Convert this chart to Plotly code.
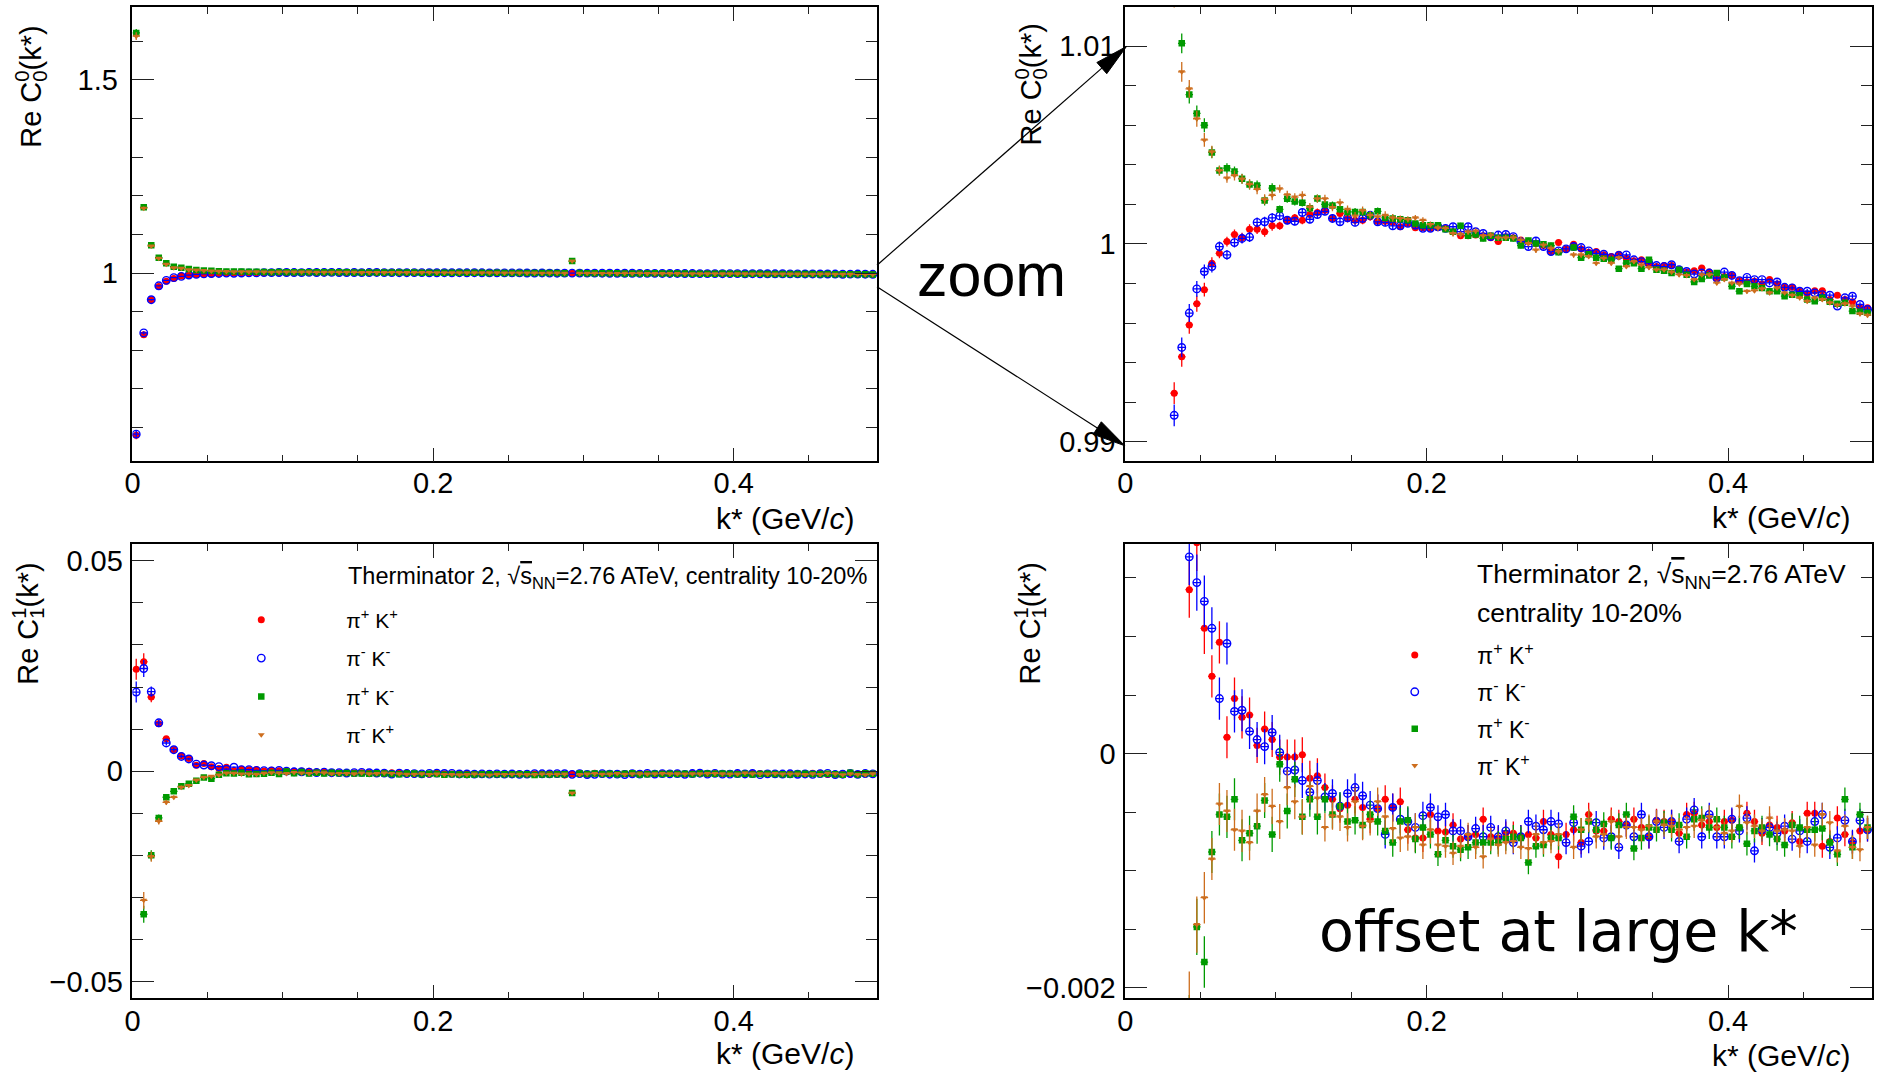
import plotly.graph_objects as go

W, H = 1879, 1075
FONT = "Liberation Sans, Arial, sans-serif"

# ---------------- data ----------------
kstar = [0.0025, 0.0075, 0.0125, 0.0175, 0.0225, 0.0275, 0.0325, 0.0375, 0.0425, 0.0475,
         0.0525, 0.0575, 0.0625, 0.0675, 0.0725, 0.0775, 0.0825, 0.0875, 0.0925, 0.0975,
         0.1025, 0.1075, 0.1125, 0.1175, 0.1225, 0.1275, 0.1325, 0.1375, 0.1425, 0.1475,
         0.1525, 0.1575, 0.1625, 0.1675, 0.1725, 0.1775, 0.1825, 0.1875, 0.1925, 0.1975,
         0.2025, 0.2075, 0.2125, 0.2175, 0.2225, 0.2275, 0.2325, 0.2375, 0.2425, 0.2475,
         0.2525, 0.2575, 0.2625, 0.2675, 0.2725, 0.2775, 0.2825, 0.2875, 0.2925, 0.2975,
         0.3025, 0.3075, 0.3125, 0.3175, 0.3225, 0.3275, 0.3325, 0.3375, 0.3425, 0.3475,
         0.3525, 0.3575, 0.3625, 0.3675, 0.3725, 0.3775, 0.3825, 0.3875, 0.3925, 0.3975,
         0.4025, 0.4075, 0.4125, 0.4175, 0.4225, 0.4275, 0.4325, 0.4375, 0.4425, 0.4475,
         0.4525, 0.4575, 0.4625, 0.4675, 0.4725, 0.4775, 0.4825, 0.4875, 0.4925]

series_names = ["π<sup>+</sup> K<sup>+</sup>", "π<sup>-</sup> K<sup>-</sup>",
                "π<sup>+</sup> K<sup>-</sup>", "π<sup>-</sup> K<sup>+</sup>"]

c0_pipKp = [0.580, 0.840, 0.931, 0.965, 0.979, 0.986, 0.99246, 0.9943, 0.99591, 0.99698,
            0.99769, 0.99903, 0.99953, 1.00012, 1.00048, 1.00032, 1.00075, 1.00075, 1.00062, 1.00092,
            1.00092, 1.0012, 1.00132, 1.0012, 1.00149, 1.00159, 1.0017, 1.00129, 1.00154, 1.00129,
            1.0012, 1.0012, 1.00137, 1.00115, 1.00115, 1.00109, 1.00087, 1.00104, 1.00082, 1.00082,
            1.00079, 1.00082, 1.00079, 1.00062, 1.00042, 1.00042, 1.00045, 1.00042, 1.00032, 1.00012,
            1.00037, 1.00032, 1.0002, 1.00012, 1.00003, 0.99992, 0.99962, 1.00008, 0.99975, 0.99998,
            0.99975, 0.99958, 0.99962, 0.99945, 0.99937, 0.99948, 0.99928, 0.99915, 0.9992, 0.99895,
            0.99886, 0.99891, 0.99891, 0.9987, 0.99858, 0.99865, 0.99878, 0.99858, 0.99825, 0.99836,
            0.99841, 0.99815, 0.99808, 0.99811, 0.99798, 0.9982, 0.99798, 0.99781, 0.99781, 0.99761,
            0.99748, 0.99764, 0.99764, 0.99719, 0.99741, 0.99719, 0.99708, 0.99678, 0.99678]

c0_pimKm = [0.583, 0.845, 0.931, 0.967, 0.981, 0.988, 0.99134, 0.99477, 0.99651, 0.99773,
            0.99861, 0.99886, 0.99987, 0.99945, 1.00007, 1.00028, 1.00035, 1.00109, 1.00112, 1.00132,
            1.00142, 1.0012, 1.00115, 1.00159, 1.00125, 1.00149, 1.00165, 1.00129, 1.00112, 1.00132,
            1.00109, 1.00129, 1.00145, 1.00112, 1.00109, 1.00092, 1.00092, 1.00104, 1.00095, 1.00079,
            1.00079, 1.00087, 1.00079, 1.00087, 1.00062, 1.00087, 1.00062, 1.00053, 1.00037, 1.00045,
            1.00048, 1.00037, 1.00012, 0.99987, 1.00015, 0.99987, 0.99962, 0.99965, 0.99975, 0.99987,
            0.99982, 0.99965, 0.99953, 0.99948, 0.99931, 0.99942, 0.99945, 0.9992, 0.99911, 0.99903,
            0.99891, 0.99886, 0.99895, 0.9987, 0.99861, 0.99848, 0.99853, 0.99853, 0.99828, 0.99858,
            0.99841, 0.99815, 0.99831, 0.9982, 0.9982, 0.99803, 0.99808, 0.99781, 0.99778, 0.99761,
            0.99761, 0.99753, 0.99744, 0.99741, 0.99686, 0.99728, 0.99736, 0.99694, 0.99669]

c0_pipKm = [1.6215, 1.170, 1.072, 1.0395, 1.025, 1.0163, 1.0135, 1.01014, 1.00755, 1.0066,
            1.006, 1.00463, 1.00371, 1.00383, 1.00366, 1.0033, 1.003, 1.00296, 1.0022, 1.00282,
            1.00175, 1.00229, 1.00215, 1.00209, 1.0018, 1.0023, 1.002, 1.00195, 1.00175, 1.00162,
            1.00162, 1.00162, 1.00145, 1.00165, 1.00132, 1.00129, 1.00125, 1.0012, 1.00104, 1.00095,
            1.00095, 1.00095, 1.00075, 1.00062, 1.00092, 1.00042, 1.00048, 1.00028, 1.00042, 1.00032,
            1.00032, 1.00028, 0.99992, 1.00017, 1.00003, 0.99998, 0.99992, 0.99958, 1.031, 0.99982,
            0.99931, 0.99948, 0.99931, 0.99925, 0.9992, 0.99875, 0.99903, 0.99903, 0.99875, 0.9992,
            0.9987, 0.99865, 0.99853, 0.9987, 0.99845, 0.99808, 0.99823, 0.99841, 0.99853, 0.99831,
            0.99786, 0.99761, 0.99798, 0.99786, 0.99778, 0.99761, 0.99761, 0.99736, 0.99744, 0.99741,
            0.99719, 0.99711, 0.99728, 0.99708, 0.99698, 0.99703, 0.99661, 0.99657, 0.99652]

c0_pimKp = [1.613, 1.168, 1.070, 1.038, 1.023, 1.0137, 1.0125, 1.0087, 1.00784, 1.00633,
            1.00526, 1.00466, 1.00371, 1.00334, 1.00346, 1.00329, 1.00302, 1.00276, 1.00226, 1.00246,
            1.00279, 1.00249, 1.00237, 1.00246, 1.00187, 1.00229, 1.00229, 1.00185, 1.00209, 1.00175,
            1.00142, 1.00169, 1.00145, 1.00137, 1.00145, 1.00132, 1.00129, 1.00125, 1.00132, 1.0012,
            1.00099, 1.00082, 1.00079, 1.00053, 1.00048, 1.00062, 1.00065, 1.00042, 1.00045, 1.00032,
            1.00032, 1.00032, 1.0002, 1.00003, 0.9997, 0.99995, 0.99978, 0.99962, 1.031, 0.99945,
            0.99945, 0.99937, 0.99903, 0.99928, 0.99903, 0.99931, 0.99886, 0.99911, 0.99895, 0.99881,
            0.9987, 0.9987, 0.99858, 0.99845, 0.99841, 0.9982, 0.99845, 0.99845, 0.99803, 0.9982,
            0.99803, 0.99798, 0.99761, 0.99764, 0.99774, 0.99753, 0.99778, 0.99753, 0.99741, 0.99728,
            0.99711, 0.99728, 0.99719, 0.99703, 0.99691, 0.99698, 0.99686, 0.99647, 0.9964]

c1_pipKp = [0.0242, 0.0260, 0.0176, 0.0113, 0.0077, 0.0051, 0.0036, 0.0030, 0.0014, 0.0018,
            0.00107, 0.00066, 0.00095, 0.00014, 0.00047, 0.00031, 0.00033, 0.00007, 0.00021, 0.00012,
            -0.00003, -0.00003, -0.00003, -0.00001, -0.00021, -0.00019, -0.00029, -0.00039, -0.00047, -0.00044,
            -0.00039, -0.00046, -0.00056, -0.00047, -0.00039, -0.00046, -0.00041, -0.00065, -0.00072, -0.00072,
            -0.00052, -0.00066, -0.00067, -0.00061, -0.00073, -0.00071, -0.00069, -0.00056, -0.00071, -0.00072,
            -0.00068, -0.00068, -0.00071, -0.00069, -0.00072, -0.00058, -0.00069, -0.00088, -0.00069, -0.00065,
            -0.00076, -0.00052, -0.00066, -0.00066, -0.00056, -0.00058, -0.00061, -0.00056, -0.00063, -0.00071,
            -0.00057, -0.00058, -0.00058, -0.00068, -0.00052, -0.00051, -0.00061, -0.00058, -0.00063, -0.00058,
            -0.00057, -0.00063, -0.00051, -0.00058, -0.00068, -0.00061, -0.00063, -0.00066, -0.00059, -0.00075,
            -0.00051, -0.00051, -0.00079, -0.00075, -0.00055, -0.00069, -0.00076, -0.00066, -0.00065]

c1_pimKm = [0.0188, 0.0244, 0.0189, 0.0115, 0.0067, 0.0051, 0.0035, 0.0029, 0.00168, 0.00146,
            0.0013, 0.00107, 0.00047, 0.00094, 0.00036, 0.00037, 0.00019, 0.00012, 0.00006, 0.00018,
            0.00001, -0.00015, -0.00014, -0.00023, -0.00033, -0.00023, -0.00037, -0.00034, -0.00045, -0.00034,
            -0.00029, -0.00036, -0.00044, -0.00047, -0.00069, -0.00046, -0.00056, -0.00058, -0.00063, -0.00053,
            -0.00046, -0.00054, -0.00052, -0.00066, -0.00066, -0.00071, -0.00064, -0.00071, -0.00063, -0.00071,
            -0.00066, -0.00076, -0.00071, -0.00058, -0.00062, -0.00065, -0.00058, -0.0006, -0.00076, -0.00059,
            -0.00079, -0.00075, -0.00059, -0.00072, -0.00071, -0.0008, -0.00061, -0.00071, -0.00052, -0.00071,
            -0.00058, -0.00063, -0.00058, -0.00075, -0.00056, -0.00048, -0.00071, -0.00052, -0.00071, -0.00071,
            -0.00056, -0.00066, -0.00055, -0.00083, -0.00065, -0.00063, -0.00068, -0.00062, -0.00073, -0.00066,
            -0.00075, -0.00058, -0.00052, -0.0008, -0.00072, -0.00057, -0.00075, -0.00057, -0.00065]

c1_pipKm = [None, -0.034, -0.0200, -0.0111, -0.0062, -0.0048, -0.0036, -0.0030, -0.0023, -0.00148,
            -0.00178, -0.00084, -0.00052, -0.00054, -0.00039, -0.00074, -0.00068, -0.00062, -0.0004, -0.00069,
            -0.00009, -0.00049, -0.00022, -0.00054, -0.00039, -0.00054, -0.00039, -0.00052, -0.00045, -0.00058,
            -0.00057, -0.00061, -0.00052, -0.00058, -0.00066, -0.00076, -0.00058, -0.00057, -0.00073, -0.00063,
            -0.00069, -0.00086, -0.00074, -0.00079, -0.00082, -0.0008, -0.00076, -0.00076, -0.00076, -0.00076,
            -0.00073, -0.00071, -0.00072, -0.00093, -0.00079, -0.00078, -0.00072, -0.00072, -0.0052, -0.00054,
            -0.00065, -0.00058, -0.00065, -0.0006, -0.00072, -0.00061, -0.00052, -0.00081, -0.00072, -0.00063,
            -0.00065, -0.00059, -0.00065, -0.00061, -0.00071, -0.00056, -0.00055, -0.00063, -0.00056, -0.00063,
            -0.00071, -0.00063, -0.00077, -0.00066, -0.00063, -0.00069, -0.00073, -0.00078, -0.00061, -0.00063,
            -0.00065, -0.00065, -0.00064, -0.00076, -0.00086, -0.00039, -0.0008, -0.00052, -0.00063]

c1_pimKp = [None, -0.0307, -0.0203, -0.0119, -0.0074, -0.0062, -0.0038, -0.0034, -0.0021, -0.00146,
            -0.00123, -0.0009, -0.00043, -0.00049, -0.00065, -0.00066, -0.00076, -0.00049, -0.00035, -0.00045,
            -0.00058, -0.00029, -0.00041, -0.00054, -0.00028, -0.00038, -0.00063, -0.00053, -0.00054, -0.00063,
            -0.00041, -0.00062, -0.00058, -0.00041, -0.00054, -0.00064, -0.00072, -0.00071, -0.00063, -0.00078,
            -0.00065, -0.00078, -0.00079, -0.00085, -0.00079, -0.00069, -0.0008, -0.00088, -0.00073, -0.00078,
            -0.00076, -0.00075, -0.0008, -0.00081, -0.00069, -0.00076, -0.00075, -0.00069, -0.0052, -0.0008,
            -0.00065, -0.00057, -0.00071, -0.00069, -0.00058, -0.00071, -0.00063, -0.00063, -0.00065, -0.00062,
            -0.00058, -0.00061, -0.00062, -0.00065, -0.00063, -0.00062, -0.00057, -0.00054, -0.00063, -0.00068,
            -0.00066, -0.00045, -0.00059, -0.00062, -0.00066, -0.00055, -0.00066, -0.00065, -0.00066, -0.00079,
            -0.00063, -0.00078, -0.00052, -0.00059, -0.00083, -0.00062, -0.0008, -0.00082, -0.00063]

err_c0 = ([0.01, 0.004, 0.002, 0.0012, 0.0009, 0.0007, 0.00055, 0.0005, 0.00045, 0.0004, 0.00035, 0.0003]
          + [0.00025] * 8 + [0.0002] * 16 + [0.00015] * 25 + [0.00012] * 38)
err_c1 = ([0.0025, 0.002, 0.0012, 0.0008, 0.0006, 0.0005, 0.0004, 0.0003, 0.00024, 0.00024, 0.00022]
          + [0.00018] * 5 + [0.00015] * 10 + [0.00012] * 15 + [0.0001] * 58)
bin_half_width = 0.0025

c0_series = [c0_pipKp, c0_pimKm, c0_pipKm, c0_pimKp]
c1_series = [c1_pipKp, c1_pimKm, c1_pipKm, c1_pimKp]

# ---------------- styles ----------------
colors = ["#ff0000", "#0000ff", "#009a00", "#cd6e1e"]
symbols = ["circle", "circle-open", "square", "triangle-down"]
msizes = [7, 7.5, 6.5, 6]


def px(x):
    return x / W


def py(y):
    return 1 - y / H


fig = go.Figure()

panels = [
    ("x", "y", c0_series, err_c0, None),
    ("x2", "y2", c0_series, err_c0, None),
    ("x3", "y3", c1_series, err_c1, "legend"),
    ("x4", "y4", c1_series, err_c1, "legend2"),
]

for xa, ya, series, err, leg in panels:
    for k, vals in enumerate(series):
        tr = dict(
            x=kstar, y=vals, xaxis=xa, yaxis=ya, mode="markers", name=series_names[k],
            marker=dict(symbol=symbols[k], size=msizes[k], color=colors[k],
                        line=dict(width=1.4 if k == 1 else 0, color=colors[k])),
            error_y=dict(type="data", array=err, visible=True, color=colors[k], thickness=1.3, width=0),
            error_x=dict(type="constant", value=bin_half_width, visible=True, color=colors[k],
                         thickness=1.3, width=0),
            showlegend=leg is not None,
        )
        if leg is not None:
            tr["legend"] = leg
            tr["legendgroup"] = leg + str(k)
        fig.add_trace(go.Scatter(**tr))

tickfont = dict(size=29, family=FONT, color="black")


def xaxis(domain, anchor, standoff):
    return dict(domain=domain, anchor=anchor, range=[0, 0.4955], tick0=0, dtick=0.2,
                ticks="inside", ticklen=14, tickwidth=1.4, tickcolor="#222",
                minor=dict(ticks="inside", ticklen=7, dtick=0.05, tickwidth=1.4, tickcolor="#222",
                           showgrid=False),
                showline=True, linecolor="black", linewidth=1.6, mirror="ticks",
                showgrid=False, zeroline=False, tickfont=tickfont, ticklabelstandoff=standoff)


def yaxis(domain, anchor, rng, dtick, tick0, mdtick, standoff=2):
    return dict(domain=domain, anchor=anchor, range=rng, tick0=tick0, dtick=dtick,
                ticks="inside", ticklen=22, tickwidth=1.4, tickcolor="#222",
                minor=dict(ticks="inside", ticklen=11, dtick=mdtick, tickwidth=1.4, tickcolor="#222",
                           showgrid=False),
                showline=True, linecolor="black", linewidth=1.6, mirror="ticks",
                showgrid=False, zeroline=False, tickfont=tickfont, ticklabelstandoff=standoff)


left_x = [px(125), px(873)]
right_x = [px(1122), px(1872)]
top_y = [py(464), py(7)]
bot_y = [py(1004), py(547)]

fig.update_layout(
    width=W, height=H, autosize=False,
    margin=dict(l=0, r=0, t=0, b=0),
    paper_bgcolor="white", plot_bgcolor="white",
    font=dict(family=FONT, color="black"),
    xaxis=xaxis(left_x, "y", -5),
    yaxis=yaxis(top_y, "x", [0.5124, 1.6887], 0.5, 0, 0.1, standoff=7),
    xaxis2=xaxis(right_x, "y2", -5),
    yaxis2=yaxis(top_y, "x2", [0.98901, 1.01198], 0.01, 1, 0.002),
    xaxis3=xaxis(left_x, "y3", -4),
    yaxis3=yaxis(bot_y, "x3", [-0.054, 0.054], 0.05, 0, 0.01),
    xaxis4=xaxis(right_x, "y4", -4),
    yaxis4=yaxis(bot_y, "x4", [-0.00209, 0.00179], 0.002, 0, 0.0005),
    legend=dict(x=px(169), y=py(603), xanchor="left", yanchor="top", itemwidth=160,
                font=dict(size=21, family=FONT), bgcolor="rgba(0,0,0,0)",
                traceorder="grouped", tracegroupgap=8),
    legend2=dict(x=px(1350), y=py(637), xanchor="left", yanchor="top", itemwidth=115,
                 font=dict(size=23, family=FONT), bgcolor="rgba(0,0,0,0)",
                 traceorder="grouped", tracegroupgap=4),
)

ytitle0 = "Re C<sup><span style='letter-spacing:-0.56em'>0</span></sup><sub>0</sub>(k*)"
ytitle1 = "Re C<sup><span style='letter-spacing:-0.56em'>1</span></sup><sub>1</sub>(k*)"
xtitle = "k* (GeV/<i>c</i>)"
sqrt_s = "√<span style='text-decoration:overline'>s</span><sub>NN</sub>"

ann = []
for xc, ytop, txt in [(25, 24, ytitle0), (1029, 22, ytitle0), (22, 564, ytitle1), (1028, 564, ytitle1)]:
    ann.append(dict(text=txt, x=px(xc), y=py(ytop), xref="paper", yref="paper", xanchor="center",
                    yanchor="top", textangle=-90, showarrow=False, font=dict(size=29, family=FONT)))
for xr, yc in [(852, 521), (1852, 520), (852, 1059), (1852, 1061)]:
    ann.append(dict(text=xtitle, x=px(xr), y=py(yc), xref="paper", yref="paper", xanchor="right",
                    yanchor="middle", showarrow=False, font=dict(size=30, family=FONT)))
ann.append(dict(text="Therminator 2, " + sqrt_s + "=2.76 ATeV, centrality 10-20%",
                x=px(339), y=py(581), xref="paper", yref="paper", xanchor="left", yanchor="middle",
                showarrow=False, font=dict(size=23.5, family=FONT)))
ann.append(dict(text="Therminator 2, " + sqrt_s + "=2.76 ATeV",
                x=px(1473), y=py(579), xref="paper", yref="paper", xanchor="left", yanchor="middle",
                showarrow=False, font=dict(size=26.5, family=FONT)))
ann.append(dict(text="centrality 10-20%",
                x=px(1473), y=py(616), xref="paper", yref="paper", xanchor="left", yanchor="middle",
                showarrow=False, font=dict(size=26.5, family=FONT)))
ann.append(dict(text="zoom", x=px(911), y=py(277), xref="paper", yref="paper", xanchor="left",
                yanchor="middle", showarrow=False, font=dict(size=61, family=FONT)))
ann.append(dict(text="offset at large k*", x=px(1315), y=py(936), xref="paper", yref="paper",
                xanchor="left", yanchor="middle", showarrow=False,
                font=dict(size=57, family="DejaVu Sans, Verdana, sans-serif")))
fig.update_layout(annotations=ann)

# arrows (decoration): line + filled triangular head
shapes = []
for (tx, ty), (hx, hy) in [((872.7, 266.7), (1123.3, 46.7)), ((872.7, 288.3), (1121.7, 448.3))]:
    dx, dy = hx - tx, hy - ty
    L = (dx * dx + dy * dy) ** 0.5
    ux, uy = dx / L, dy / L
    hl, hw = 33, 7.5
    bx, by = hx - ux * hl, hy - uy * hl
    shapes.append(dict(type="line", xref="paper", yref="paper", x0=px(tx), y0=py(ty), x1=px(bx), y1=py(by),
                       line=dict(color="black", width=1.2)))
    p1 = (bx - uy * hw, by + ux * hw)
    p2 = (bx + uy * hw, by - ux * hw)
    path = "M %f,%f L %f,%f L %f,%f Z" % (px(hx), py(hy), px(p1[0]), py(p1[1]), px(p2[0]), py(p2[1]))
    shapes.append(dict(type="path", xref="paper", yref="paper", path=path, fillcolor="black",
                       line=dict(color="black", width=1)))
fig.update_layout(shapes=shapes)

fig.write_html("out.html")
